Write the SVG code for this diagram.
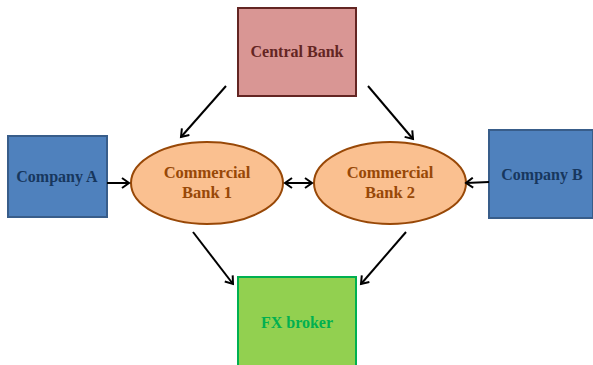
<svg xmlns="http://www.w3.org/2000/svg" width="593" height="365" viewBox="0 0 593 365">
<defs>
<marker id="ah" markerWidth="12" markerHeight="12" refX="9" refY="6" orient="auto" markerUnits="userSpaceOnUse">
<path d="M2,1 L9,6 L2,11" fill="none" stroke="#000" stroke-width="2"/>
</marker>
<marker id="ahs" markerWidth="12" markerHeight="12" refX="3" refY="6" orient="auto" markerUnits="userSpaceOnUse">
<path d="M10,1 L3,6 L10,11" fill="none" stroke="#000" stroke-width="2"/>
</marker>
</defs>
<style>
text{font-family:"Liberation Serif","Times New Roman",serif;font-weight:bold;font-size:16px;text-anchor:middle}
.e{font-size:16.5px}
.c{stroke:#000;stroke-width:2;fill:none;marker-end:url(#ah)}
</style>
<rect width="593" height="365" fill="#fff"/>
<g id="central-bank">
<rect x="238" y="8" width="118" height="88" fill="#D99694" stroke="#632523" stroke-width="2"/>
<text x="297" y="57" fill="#632523">Central Bank</text>
</g>
<g id="company-a">
<rect x="8" y="136" width="99" height="81" fill="#4F81BD" stroke="#385D8A" stroke-width="2"/>
<text x="57" y="182" fill="#17375E">Company A</text>
</g>
<g id="company-b">
<rect x="489" y="130" width="104" height="88" fill="#4F81BD" stroke="#385D8A" stroke-width="2"/>
<text x="542" y="180" fill="#17375E">Company B</text>
</g>
<g id="commercial-bank-1">
<ellipse cx="207" cy="183" rx="76" ry="41" fill="#FAC090" stroke="#984807" stroke-width="2"/>
<text class="e" x="207" y="178" fill="#984807">Commercial</text>
<text class="e" x="207" y="198" fill="#984807">Bank 1</text>
</g>
<g id="commercial-bank-2">
<ellipse cx="390" cy="183" rx="76" ry="41" fill="#FAC090" stroke="#984807" stroke-width="2"/>
<text class="e" x="390" y="178" fill="#984807">Commercial</text>
<text class="e" x="390" y="198" fill="#984807">Bank 2</text>
</g>
<g id="fx-broker">
<rect x="238" y="277" width="118" height="92" fill="#92D050" stroke="#00B050" stroke-width="2"/>
<text x="297" y="328" fill="#00B050">FX broker</text>
</g>
<g id="connectors">
<line class="c" x1="226" y1="86" x2="181" y2="137"/>
<line class="c" x1="368" y1="86" x2="413" y2="139"/>
<line class="c" x1="107" y1="183" x2="129" y2="183"/>
<line class="c" x1="489" y1="182" x2="466" y2="183"/>
<line class="c" x1="285" y1="183" x2="312" y2="183" marker-start="url(#ahs)"/>
<line class="c" x1="193" y1="232" x2="233" y2="284"/>
<line class="c" x1="406" y1="232" x2="361" y2="284"/>
</g>
</svg>
